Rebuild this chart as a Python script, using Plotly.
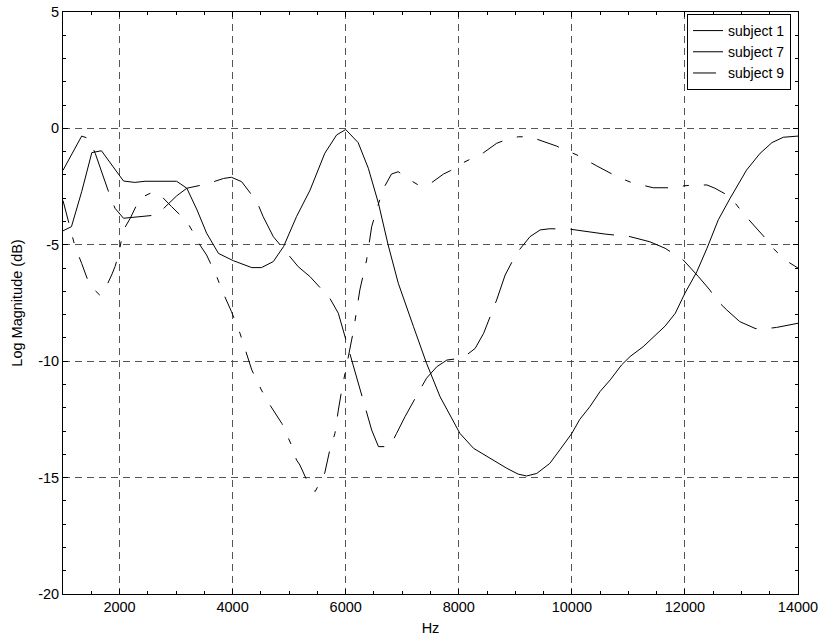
import plotly.graph_objects as go

# subject 1 (solid)
s1_hz = [1000, 1150, 1330, 1510, 1680, 1890, 2070, 2270, 2450, 3010, 3190, 3370, 3540, 3750,
         4010, 4340, 4510, 4720, 4900, 5130, 5370, 5630, 5840, 6000, 6220, 6400, 6580, 6750,
         6930, 7200, 7430, 7670, 7900, 8020, 8260, 8550, 8850, 9050, 9200, 9380, 9610, 9790,
         10000, 10140, 10320, 10500, 10680, 10880, 11030, 11260, 11650, 11830, 12000, 12210,
         12390, 12590, 12800, 13090, 13330, 13540, 13740, 14000]
s1_db = [-4.40, -4.22, -2.72, -1.04, -0.96, -1.64, -2.26, -2.32, -2.27, -2.27, -2.57, -3.50,
         -4.50, -5.37, -5.68, -5.98, -5.98, -5.72, -5.08, -3.79, -2.65, -1.07, -0.28, -0.05,
         -0.61, -1.71, -3.22, -5.00, -6.65, -8.52, -10.09, -11.53, -12.60, -13.10, -13.74,
         -14.17, -14.60, -14.85, -14.93, -14.82, -14.39, -13.80, -13.10, -12.50, -11.95, -11.30,
         -10.80, -10.16, -9.80, -9.38, -8.49, -7.94, -7.08, -6.16, -5.15, -3.93, -3.00, -1.79,
         -1.07, -0.61, -0.38, -0.33]

# subject 7 (long dashes)
s7_hz = [1000, 1330, 1450, 1570, 1820, 1920, 2070, 2660, 2860, 3010, 3190, 3540, 3840, 3980,
         4160, 4430, 4540, 4720, 4990, 5160, 5370, 5720, 5870, 6080, 6170, 6370, 6460, 6580,
         6780, 6900, 7050, 7310, 7430, 7610, 7790, 8020, 8140, 8290, 8440, 8670, 8730, 8820,
         9020, 9260, 9440, 9610, 9970, 10320, 10590, 11030, 11380, 11650, 11970, 12240, 12440,
         12560, 12740, 12970, 13240, 13330, 13620, 14000]
s7_db = [-1.80, -0.33, -0.43, -1.07, -2.82, -3.43, -3.86, -3.72, -3.25, -2.90, -2.57, -2.39,
         -2.15, -2.10, -2.29, -3.15, -3.79, -4.65, -5.44, -5.94, -6.37, -7.30, -7.94, -9.73,
         -10.52, -12.31, -12.96, -13.67, -13.67, -13.10, -12.38, -11.24, -10.73, -10.24, -9.95,
         -9.88, -9.73, -9.45, -8.80, -7.37, -6.94, -6.30, -5.37, -4.65, -4.36, -4.31, -4.33,
         -4.45, -4.54, -4.65, -4.87, -5.15, -5.65, -6.37, -6.94, -7.37, -7.80, -8.30, -8.59,
         -8.63, -8.55, -8.37]

# subject 9 (dash-dot)
s9_hz = [1000, 1120, 1210, 1330, 1470, 1650, 1710, 1860, 1920, 1980, 2010, 2040, 2070, 2190,
         2360, 2600, 2720, 2920, 3190, 3340, 3420, 3540, 3720, 3820, 3880, 3980, 4130, 4220,
         4340, 4510, 4660, 4870, 5040, 5130, 5190, 5310, 5370, 5460, 5630, 5720, 5810, 5870,
         5930, 6140, 6250, 6370, 6460, 6560, 6670, 6810, 6930, 7140, 7310, 7520, 7730, 7850,
         8080, 8440, 8670, 8820, 9050, 9260, 9470, 9730, 9850, 10090, 10440, 10700, 10820,
         11060, 11440, 11740, 11850, 12150, 12390, 12530, 12800, 13030, 13300, 13480, 13560,
         13770, 14000]
s9_db = [-3.10, -4.22, -5.05, -5.80, -6.73, -7.16, -7.08, -6.30, -5.94, -5.44, -5.08, -4.58,
         -4.36, -3.86, -3.00, -2.72, -2.86, -3.36, -4.00, -4.62, -5.00, -5.44, -6.37, -7.00,
         -7.30, -7.87, -8.80, -9.44, -10.38, -11.24, -11.88, -12.67, -13.60, -14.24, -14.46,
         -15.10, -15.40, -15.60, -14.80, -13.80, -13.10, -12.10, -11.24, -8.66, -6.94, -5.65,
         -4.22, -3.39, -2.57, -1.96, -1.86, -2.22, -2.47, -2.33, -1.96, -1.82, -1.47, -1.04,
         -0.64, -0.50, -0.36, -0.36, -0.53, -0.76, -0.90, -1.14, -1.61, -1.93, -2.10, -2.33,
         -2.55, -2.55, -2.50, -2.43, -2.43, -2.57, -2.93, -3.65, -4.36, -4.87, -5.15, -5.65,
         -6.00]

x_ticks = [2000, 4000, 6000, 8000, 10000, 12000, 14000]
x_ticktext = ["2000", "4000", "6000", "8000", "10000", "12000", "14000"]
y_ticks = [-20, -15, -10, -5, 0, 5]
y_ticktext = ["-20", "-15", "-10", "-5", "0", "5"]

FONT = "Liberation Sans, Arial, sans-serif"
FS = 14.5

fig = go.Figure()
fig.add_trace(go.Scatter(x=s1_hz, y=s1_db, mode="lines", name="subject 1",
                         line=dict(color="black", width=1)))
fig.add_trace(go.Scatter(x=s7_hz, y=s7_db, mode="lines", name="subject 7",
                         line=dict(color="black", width=1, dash="44px,15px")))
fig.add_trace(go.Scatter(x=s9_hz, y=s9_db, mode="lines", name="subject 9",
                         line=dict(color="black", width=1, dash="23px,15px,6px,15px")))

axis_common = dict(
    showline=True, linecolor="black", linewidth=1, mirror="allticks",
    ticks="inside", ticklen=5, tickcolor="black", tickwidth=1,
    showgrid=True, gridcolor="#555555", gridwidth=1, griddash="7px,5px",
    zeroline=False, automargin=False,
    tickfont=dict(family=FONT, size=FS, color="black"),
)

fig.update_xaxes(
    range=[1000, 14000], tickvals=x_ticks, ticktext=x_ticktext,
    minor=dict(dtick=500, tick0=1000, ticks="inside", ticklen=3, tickcolor="black", showgrid=False),
    title=dict(text="Hz", font=dict(family=FONT, size=FS, color="black"), standoff=9),
    **axis_common,
)
fig.update_yaxes(
    range=[-20, 5], tickvals=y_ticks, ticktext=y_ticktext,
    minor=dict(dtick=1, tick0=0, ticks="inside", ticklen=3, tickcolor="black", showgrid=False),
    title=dict(text="Log Magnitude (dB)", font=dict(family=FONT, size=FS, color="black"), standoff=12),
    **axis_common,
)

fig.update_layout(
    width=823, height=636,
    margin=dict(l=63, r=25, t=12, b=42),
    plot_bgcolor="white", paper_bgcolor="white",
    font=dict(family=FONT, size=FS, color="black"),
    legend=dict(
        x=0.9905, y=0.9966, xanchor="right", yanchor="top",
        bgcolor="white", bordercolor="black", borderwidth=1,
        font=dict(family=FONT, size=14, color="black"),
        itemwidth=30, tracegroupgap=0,
    ),
)

fig.write_html("out.html")
